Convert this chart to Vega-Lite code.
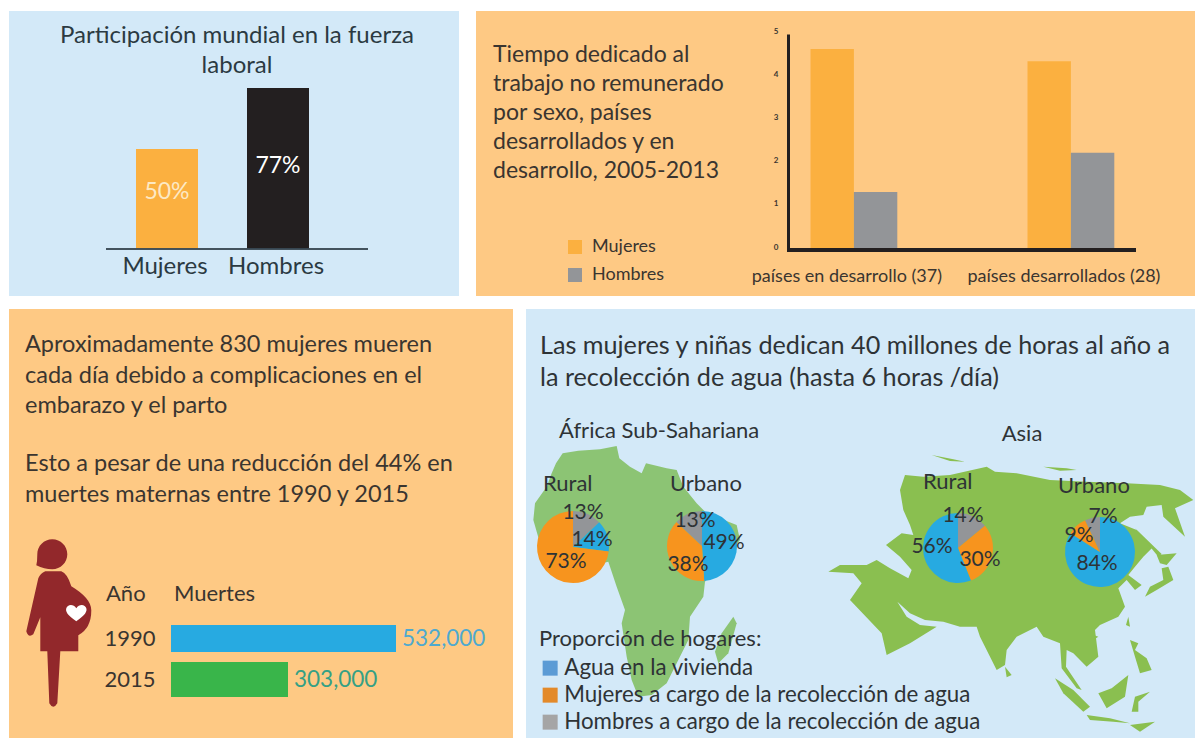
{"$schema":"https://vega.github.io/schema/vega-lite/v6.json","background":"white","padding":{"left":9,"top":10,"right":0,"bottom":0},"config":{"font":"Lato","view":{"stroke":null},"text":{"font":"Lato","color":"#2e3336"},"axis":{"labelFont":"Lato","labelColor":"#2e3336"},"legend":{"labelFont":"Lato","titleFont":"Lato","labelColor":"#2e3336","titleColor":"#2e3336"}},
"datasets":{
"laboral":[{"sexo":"Mujeres","pct":50},{"sexo":"Hombres","pct":77}],
"tiempo":[{"grupo":"países en desarrollo (37)","sexo":"Mujeres","horas":4.65},{"grupo":"países en desarrollo (37)","sexo":"Hombres","horas":1.34},{"grupo":"países desarrollados (28)","sexo":"Mujeres","horas":4.37},{"grupo":"países desarrollados (28)","sexo":"Hombres","horas":2.25}],
"muertes":[{"anio":"1990","muertes":532000},{"anio":"2015","muertes":303000}],
"pies":[
{"id":"afr","cat":"Hombres","v":0.13,"orden":1},{"id":"afr","cat":"Agua","v":0.14,"orden":2},{"id":"afr","cat":"Mujeres","v":0.73,"orden":3},
{"id":"afu","cat":"Agua","v":0.49,"orden":1},{"id":"afu","cat":"Mujeres","v":0.38,"orden":2},{"id":"afu","cat":"Hombres","v":0.13,"orden":3},
{"id":"asr","cat":"Hombres","v":0.14,"orden":1},{"id":"asr","cat":"Mujeres","v":0.30,"orden":2},{"id":"asr","cat":"Agua","v":0.56,"orden":3},
{"id":"asu","cat":"Agua","v":0.84,"orden":1},{"id":"asu","cat":"Mujeres","v":0.09,"orden":2},{"id":"asu","cat":"Hombres","v":0.07,"orden":3}],
"leyenda":[{"categoria":"Agua en la vivienda"},{"categoria":"Mujeres a cargo de la recolección de agua"},{"categoria":"Hombres a cargo de la recolección de agua"}],
"africa":[
{"type":"Feature","properties":{"n":"continente"},"geometry":{"type":"Polygon","coordinates":[[[108,160],[128,130],[175,122],[240,118],[290,108],[298,145],[330,170],[365,190],[378,160],[440,175],[470,180],[490,230],[530,280],[560,310],[650,345],[660,390],[610,450],[555,515],[550,560],[510,620],[505,690],[470,760],[440,820],[395,855],[355,860],[335,810],[320,740],[305,640],[315,600],[290,530],[265,455],[200,470],[130,470],[60,400],[40,330],[45,280],[80,230],[95,190],[108,160]]]}},
{"type":"Feature","properties":{"n":"Madagascar"},"geometry":{"type":"Polygon","coordinates":[[[640,620],[650,640],[625,730],[595,760],[585,725],[605,670],[640,620]]]}}],
"asia":[
{"type":"Feature","properties":{"n":"continente"},"geometry":{"type":"Polygon","coordinates":[[[925,485],[960,465],[1040,465],[1070,450],[1110,475],[1165,505],[1175,480],[1140,440],[1098,405],[1145,370],[1180,375],[1170,345],[1150,300],[1140,240],[1155,195],[1210,200],[1290,195],[1400,170],[1425,185],[1490,190],[1590,210],[1700,215],[1820,220],[1920,225],[1980,240],[2020,270],[1965,295],[1995,380],[1930,320],[1925,285],[1880,290],[1870,315],[1830,320],[1800,340],[1850,360],[1900,410],[1870,440],[1845,470],[1825,495],[1865,525],[1845,540],[1820,510],[1795,535],[1815,590],[1795,620],[1740,645],[1725,660],[1735,740],[1700,770],[1660,730],[1640,720],[1638,770],[1685,840],[1670,835],[1625,775],[1620,700],[1570,680],[1550,650],[1490,680],[1460,720],[1455,765],[1430,780],[1380,680],[1370,650],[1320,650],[1270,635],[1215,630],[1170,610],[1132,575],[1160,620],[1200,645],[1250,650],[1170,700],[1100,735],[1085,670],[990,570],[1025,520],[1000,490],[925,485]]]}},
{"type":"Feature","properties":{"n":"Nueva Zembla"},"geometry":{"type":"Polygon","coordinates":[[[1235,135],[1300,148],[1335,155],[1290,153],[1235,135]]]}},
{"type":"Feature","properties":{"n":"Nueva Siberia"},"geometry":{"type":"Polygon","coordinates":[[[1570,170],[1640,175],[1670,180],[1620,182],[1570,170]]]}},
{"type":"Feature","properties":{"n":"Sajalín"},"geometry":{"type":"Polygon","coordinates":[[[1845,355],[1925,432],[1915,440],[1845,355]]]}},
{"type":"Feature","properties":{"n":"Hokkaido"},"geometry":{"type":"Polygon","coordinates":[[[1910,435],[1970,430],[1940,465],[1920,460],[1910,435]]]}},
{"type":"Feature","properties":{"n":"Honshu"},"geometry":{"type":"Polygon","coordinates":[[[1945,470],[1960,510],[1910,540],[1875,560],[1890,530],[1930,510],[1925,475],[1945,470]]]}},
{"type":"Feature","properties":{"n":"Sri Lanka"},"geometry":{"type":"Polygon","coordinates":[[[1455,770],[1475,795],[1460,802],[1455,770]]]}},
{"type":"Feature","properties":{"n":"Taiwán"},"geometry":{"type":"Polygon","coordinates":[[[1825,620],[1830,650],[1818,645],[1825,620]]]}},
{"type":"Feature","properties":{"n":"Hainan"},"geometry":{"type":"Polygon","coordinates":[[[1720,675],[1735,680],[1720,690],[1720,675]]]}},
{"type":"Feature","properties":{"n":"Filipinas"},"geometry":{"type":"Polygon","coordinates":[[[1830,690],[1855,700],[1845,720],[1880,745],[1895,780],[1860,790],[1845,740],[1830,690]]]}},
{"type":"Feature","properties":{"n":"Borneo"},"geometry":{"type":"Polygon","coordinates":[[[1825,795],[1815,860],[1760,895],[1735,850],[1775,835],[1825,795]]]}},
{"type":"Feature","properties":{"n":"Sumatra"},"geometry":{"type":"Polygon","coordinates":[[[1605,805],[1660,840],[1710,890],[1690,905],[1630,850],[1605,805]]]}},
{"type":"Feature","properties":{"n":"Java"},"geometry":{"type":"Polygon","coordinates":[[[1700,915],[1770,925],[1830,940],[1780,935],[1710,930],[1700,915]]]}},
{"type":"Feature","properties":{"n":"Célebes"},"geometry":{"type":"Polygon","coordinates":[[[1845,860],[1890,845],[1855,875],[1855,905],[1835,905],[1845,860]]]}},
{"type":"Feature","properties":{"n":"Sonda"},"geometry":{"type":"Polygon","coordinates":[[[1830,945],[1905,935],[1860,965],[1830,945]]]}}]
},
"spacing":13,"resolve":{"scale":{"color":"independent"},"legend":{"color":"independent"}},
"vconcat":[
{"bounds":"flush","spacing":17,"resolve":{"scale":{"color":"independent"},"legend":{"color":"independent"}},"hconcat":[
{"width":450,"height":285,"view":{"fill":"#d3e9f8","stroke":null},"data":{"name":"laboral"},"layer":[
{"mark":{"type":"bar","width":62},"encoding":{"x":{"field":"sexo","type":"nominal","sort":null,"scale":{"domain":["Mujeres","Hombres"],"range":[102.5,324.5],"paddingInner":0,"paddingOuter":0},"axis":{"title":null,"domain":false,"ticks":false,"labelAngle":0,"labelFontSize":24,"labelPadding":5,"offset":-47,"labelOffset":-2,"labelColor":"#2b3a42"}},"y":{"field":"pct","type":"quantitative","scale":{"domain":[0,50,77],"range":[238,138,77],"nice":false},"axis":null},"color":{"field":"sexo","type":"nominal","scale":{"domain":["Mujeres","Hombres"],"range":["#fbb040","#231f20"]},"legend":null}}},
{"mark":{"type":"rule","x":97,"x2":359,"color":"#3a4a55","strokeWidth":1.5},"encoding":{"y":{"datum":0,"type":"quantitative"}}},
{"data":{"values":[{"t":"50%","sexo":"Mujeres"}]},"mark":{"type":"text","y":181,"fontSize":23,"color":"#fde9c4"},"encoding":{"x":{"field":"sexo","type":"nominal"},"text":{"field":"t"}}},
{"data":{"values":[{"t":"77%","sexo":"Hombres"}]},"mark":{"type":"text","y":155,"fontSize":23,"color":"#ffffff"},"encoding":{"x":{"field":"sexo","type":"nominal"},"text":{"field":"t"}}},
{"data":{"values":[{"t":"Participación mundial en la fuerza\nlaboral"}]},"mark":{"type":"text","x":228,"y":32,"fontSize":24,"align":"center","baseline":"alphabetic","lineBreak":"\n","lineHeight":30,"color":"#2b3a42"},"encoding":{"text":{"field":"t"}}}
]},
{"width":719,"height":285,"view":{"fill":"#fec984","stroke":null},"data":{"name":"tiempo"},"layer":[
{"mark":{"type":"bar"},"encoding":{"x":{"field":"grupo","type":"nominal","sort":null,"scale":{"domain":["países en desarrollo (37)","países desarrollados (28)"],"range":[269.4,703.4],"paddingInner":0.6,"paddingOuter":0.3},"axis":{"title":null,"domain":false,"ticks":false,"labelAngle":0,"labelFontSize":18,"labelPadding":5,"offset":-34,"labelOffset":-7,"labelColor":"#3a3530","labelLimit":300}},"xOffset":{"field":"sexo","type":"nominal","sort":["Mujeres","Hombres"]},"y":{"field":"horas","type":"quantitative","scale":{"domain":[0,5],"range":[239,23],"nice":false},"axis":{"title":null,"offset":-312,"domainWidth":3,"domainColor":"#231f20","ticks":false,"grid":false,"tickCount":5,"labelFontSize":8,"labelFontWeight":"bold","labelPadding":10,"labelOffset":-3,"labelColor":"#3a3530"}},"color":{"field":"sexo","type":"nominal","scale":{"domain":["Mujeres","Hombres"],"range":["#fbb040","#939598"]},"legend":{"orient":"none","legendX":90,"legendY":227,"title":null,"symbolType":"square","symbolSize":196,"symbolStrokeWidth":0,"labelFontSize":18,"rowPadding":10,"labelOffset":8,"labelColor":"#3a3530"}}}},
{"mark":{"type":"rule","x":311,"x2":660,"color":"#231f20","strokeWidth":4},"encoding":{"y":{"datum":0,"type":"quantitative"}}},
{"mark":{"type":"rule","x":0,"x2":719,"y":1,"color":"#ffffff","strokeWidth":2},"encoding":{}},
{"data":{"values":[{"t":"Tiempo dedicado al\ntrabajo no remunerado\npor sexo, países\ndesarrollados y en\ndesarrollo, 2005-2013"}]},"mark":{"type":"text","x":17,"y":51,"fontSize":23,"align":"left","baseline":"alphabetic","lineBreak":"\n","lineHeight":29,"color":"#3a3530"},"encoding":{"text":{"field":"t"}}}
]}
]},
{"bounds":"flush","spacing":13,"resolve":{"scale":{"color":"independent"},"legend":{"color":"independent"}},"hconcat":[
{"width":504,"height":429,"view":{"fill":"#fec984","stroke":null},"data":{"name":"muertes"},"resolve":{"scale":{"color":"independent"}},"layer":[
{"mark":{"type":"bar"},"encoding":{"x":{"field":"muertes","type":"quantitative","scale":{"domain":[0,303000,532000],"range":[162,279,387],"nice":false},"axis":null},"y":{"field":"anio","type":"nominal","scale":{"domain":["1990","2015"],"range":[309,391],"paddingInner":0,"paddingOuter":0},"axis":{"title":null,"offset":-146,"domain":false,"ticks":false,"labelPadding":0,"labelFontSize":22,"labelColor":"#3a3530"}},"size":{"field":"anio","type":"nominal","scale":{"domain":["1990","2015"],"range":[27,35]},"legend":null},"color":{"field":"anio","type":"nominal","scale":{"domain":["1990","2015"],"range":["#27aae1","#39b54a"]},"legend":null}}},
{"mark":{"type":"text","align":"left","dx":6,"fontSize":22.5},"encoding":{"x":{"field":"muertes","type":"quantitative"},"y":{"field":"anio","type":"nominal"},"text":{"field":"muertes","type":"quantitative","format":","},"color":{"field":"anio","type":"nominal","scale":{"domain":["1990","2015"],"range":["#4ea9cf","#35a085"]},"legend":null}}},
{"data":{"values":[{"t":"Aproximadamente 830 mujeres mueren\ncada día debido a complicaciones en el\nembarazo y el parto"}]},"mark":{"type":"text","x":16,"y":43,"fontSize":23.5,"align":"left","baseline":"alphabetic","lineBreak":"\n","lineHeight":30.5,"color":"#3a3530"},"encoding":{"text":{"field":"t"}}},
{"data":{"values":[{"t":"Esto a pesar de una reducción del 44% en\nmuertes maternas entre 1990 y 2015"}]},"mark":{"type":"text","x":16,"y":162,"fontSize":23.5,"align":"left","baseline":"alphabetic","lineBreak":"\n","lineHeight":31,"color":"#3a3530"},"encoding":{"text":{"field":"t"}}},
{"data":{"values":[{"t":"Año"}]},"mark":{"type":"text","x":97,"y":285,"fontSize":22,"align":"left","baseline":"middle","color":"#3a3530"},"encoding":{"text":{"field":"t"}}},
{"data":{"values":[{"t":"Muertes"}]},"mark":{"type":"text","x":165,"y":285,"fontSize":22,"align":"left","baseline":"middle","color":"#3a3530"},"encoding":{"text":{"field":"t"}}},
{"data":{"values":[{"icono":"mujer embarazada"}]},"mark":{"type":"point","x":44.3,"y":314.3,"filled":true,"opacity":1,"size":4,"strokeWidth":0,"color":"#92282b","shape":"M-17,-58 Q-16,-62 -16,-69 A15,15 0 1 1 -1,-54 Q-9,-54 -17,-58Z M-8,-52 L8,-52 Q14,-50 18,-37 Q38,-25 38,-13 Q38,5 25,12 L25,28 L7,28 L4,80 Q0,87 -4,80 L-6,28 L-13,28 L-13,-6 L-20,11 Q-25,15 -27,8 L-15,-45 Q-13,-50 -8,-52Z"},"encoding":{"detail":{"field":"icono"}}},
{"data":{"values":[{"icono":"corazón"}]},"mark":{"type":"point","x":44.3,"y":314.3,"filled":true,"opacity":1,"size":4,"strokeWidth":0,"color":"#ffffff","shape":"M23,-2 C14,-8 12,-12 13,-15 C14,-19 20,-20 23,-15 C26,-20 32,-19 33,-15 C34,-12 32,-8 23,-2Z"},"encoding":{"detail":{"field":"icono"}}}
]},
{"width":669,"height":429,"view":{"fill":"#d3e9f8","stroke":null},"resolve":{"scale":{"color":"independent"}},"layer":[
{"data":{"name":"africa"},"projection":{"type":"identity","scale":0.33333,"translate":[-6,101]},"mark":{"type":"geoshape","fill":"#8cc474","stroke":null},"encoding":{}},
{"data":{"name":"asia"},"projection":{"type":"identity","scale":0.33333,"translate":[-6,101]},"mark":{"type":"geoshape","fill":"#8abf50","stroke":null},"encoding":{}},
{"data":{"name":"pies"},"transform":[{"filter":"datum.id=='afr'"}],"mark":{"type":"arc","outerRadius":36,"x":47,"y":238},"encoding":{"theta":{"field":"v","type":"quantitative","scale":{"domain":[0,1]}},"order":{"field":"orden"},"color":{"field":"cat","type":"nominal","scale":{"domain":["Agua","Mujeres","Hombres"],"range":["#27aae1","#f7941e","#939598"]},"legend":null}}},
{"data":{"name":"pies"},"transform":[{"filter":"datum.id=='afu'"}],"mark":{"type":"arc","outerRadius":35,"x":176,"y":237},"encoding":{"theta":{"field":"v","type":"quantitative","scale":{"domain":[0,1]}},"order":{"field":"orden"},"color":{"field":"cat","type":"nominal","scale":{"domain":["Agua","Mujeres","Hombres"],"range":["#27aae1","#f7941e","#939598"]},"legend":null}}},
{"data":{"name":"pies"},"transform":[{"filter":"datum.id=='asr'"}],"mark":{"type":"arc","outerRadius":35,"x":432,"y":239},"encoding":{"theta":{"field":"v","type":"quantitative","scale":{"domain":[0,1]}},"order":{"field":"orden"},"color":{"field":"cat","type":"nominal","scale":{"domain":["Agua","Mujeres","Hombres"],"range":["#27aae1","#f7941e","#939598"]},"legend":null}}},
{"data":{"name":"pies"},"transform":[{"filter":"datum.id=='asu'"}],"mark":{"type":"arc","outerRadius":35,"x":574,"y":243},"encoding":{"theta":{"field":"v","type":"quantitative","scale":{"domain":[0,1]}},"order":{"field":"orden"},"color":{"field":"cat","type":"nominal","scale":{"domain":["Agua","Mujeres","Hombres"],"range":["#27aae1","#f7941e","#939598"]},"legend":null}}},
{"data":{"name":"leyenda"},"mark":{"type":"point","filled":true,"opacity":0,"x":20,"y":340},"encoding":{"color":{"field":"categoria","type":"nominal","scale":{"domain":["Agua en la vivienda","Mujeres a cargo de la recolección de agua","Hombres a cargo de la recolección de agua"],"range":["#5b9bd5","#e38a2a","#a5a5a5"]},"legend":{"orient":"none","legendX":13,"legendY":320,"title":"Proporción de hogares:","titleFontSize":22,"titleFontWeight":"normal","titlePadding":6,"titleLimit":500,"symbolType":"square","symbolSize":225,"symbolOpacity":1,"symbolStrokeWidth":0,"labelFontSize":22.3,"labelOffset":3,"rowPadding":4,"labelLimit":500}}}},
{"data":{"values":[{"t":"Las mujeres y niñas dedican 40 millones de horas al año a\nla recolección de agua (hasta 6 horas /día)"}]},"mark":{"type":"text","x":14,"y":45,"fontSize":25.2,"align":"left","baseline":"alphabetic","lineBreak":"\n","lineHeight":32},"encoding":{"text":{"field":"t"}}},
{"data":{"values":[{"t":"África Sub-Sahariana"}]},"mark":{"type":"text","x":33,"y":122,"fontSize":22,"align":"left","baseline":"middle"},"encoding":{"text":{"field":"t"}}},
{"data":{"values":[{"t":"Asia"}]},"mark":{"type":"text","x":496,"y":125,"fontSize":22,"align":"center","baseline":"middle"},"encoding":{"text":{"field":"t"}}},
{"data":{"values":[{"t":"Rural"}]},"mark":{"type":"text","x":17,"y":175,"fontSize":22,"align":"left","baseline":"middle"},"encoding":{"text":{"field":"t"}}},
{"data":{"values":[{"t":"Urbano"}]},"mark":{"type":"text","x":144,"y":175,"fontSize":22,"align":"left","baseline":"middle"},"encoding":{"text":{"field":"t"}}},
{"data":{"values":[{"t":"Rural"}]},"mark":{"type":"text","x":397,"y":173,"fontSize":22,"align":"left","baseline":"middle"},"encoding":{"text":{"field":"t"}}},
{"data":{"values":[{"t":"Urbano"}]},"mark":{"type":"text","x":532,"y":177,"fontSize":22,"align":"left","baseline":"middle"},"encoding":{"text":{"field":"t"}}},
{"data":{"name":"pies"},"transform":[{"filter":"datum.id=='afr'&&datum.cat=='Hombres'"}],"mark":{"type":"text","x":57,"y":204,"fontSize":21,"baseline":"middle"},"encoding":{"text":{"field":"v","type":"quantitative","format":".0%"}}},
{"data":{"name":"pies"},"transform":[{"filter":"datum.id=='afr'&&datum.cat=='Agua'"}],"mark":{"type":"text","x":66,"y":231,"fontSize":21,"baseline":"middle"},"encoding":{"text":{"field":"v","type":"quantitative","format":".0%"}}},
{"data":{"name":"pies"},"transform":[{"filter":"datum.id=='afr'&&datum.cat=='Mujeres'"}],"mark":{"type":"text","x":40,"y":253,"fontSize":21,"baseline":"middle"},"encoding":{"text":{"field":"v","type":"quantitative","format":".0%"}}},
{"data":{"name":"pies"},"transform":[{"filter":"datum.id=='afu'&&datum.cat=='Hombres'"}],"mark":{"type":"text","x":169,"y":212,"fontSize":21,"baseline":"middle"},"encoding":{"text":{"field":"v","type":"quantitative","format":".0%"}}},
{"data":{"name":"pies"},"transform":[{"filter":"datum.id=='afu'&&datum.cat=='Agua'"}],"mark":{"type":"text","x":198,"y":234,"fontSize":21,"baseline":"middle"},"encoding":{"text":{"field":"v","type":"quantitative","format":".0%"}}},
{"data":{"name":"pies"},"transform":[{"filter":"datum.id=='afu'&&datum.cat=='Mujeres'"}],"mark":{"type":"text","x":162,"y":256,"fontSize":21,"baseline":"middle"},"encoding":{"text":{"field":"v","type":"quantitative","format":".0%"}}},
{"data":{"name":"pies"},"transform":[{"filter":"datum.id=='asr'&&datum.cat=='Hombres'"}],"mark":{"type":"text","x":437,"y":207,"fontSize":21,"baseline":"middle"},"encoding":{"text":{"field":"v","type":"quantitative","format":".0%"}}},
{"data":{"name":"pies"},"transform":[{"filter":"datum.id=='asr'&&datum.cat=='Agua'"}],"mark":{"type":"text","x":406,"y":238,"fontSize":21,"baseline":"middle"},"encoding":{"text":{"field":"v","type":"quantitative","format":".0%"}}},
{"data":{"name":"pies"},"transform":[{"filter":"datum.id=='asr'&&datum.cat=='Mujeres'"}],"mark":{"type":"text","x":454,"y":251,"fontSize":21,"baseline":"middle"},"encoding":{"text":{"field":"v","type":"quantitative","format":".0%"}}},
{"data":{"name":"pies"},"transform":[{"filter":"datum.id=='asu'&&datum.cat=='Hombres'"}],"mark":{"type":"text","x":577,"y":208,"fontSize":21,"baseline":"middle"},"encoding":{"text":{"field":"v","type":"quantitative","format":".0%"}}},
{"data":{"name":"pies"},"transform":[{"filter":"datum.id=='asu'&&datum.cat=='Mujeres'"}],"mark":{"type":"text","x":553,"y":227,"fontSize":21,"baseline":"middle"},"encoding":{"text":{"field":"v","type":"quantitative","format":".0%"}}},
{"data":{"name":"pies"},"transform":[{"filter":"datum.id=='asu'&&datum.cat=='Agua'"}],"mark":{"type":"text","x":571,"y":255,"fontSize":21,"baseline":"middle"},"encoding":{"text":{"field":"v","type":"quantitative","format":".0%"}}}
]}
]}
]}
